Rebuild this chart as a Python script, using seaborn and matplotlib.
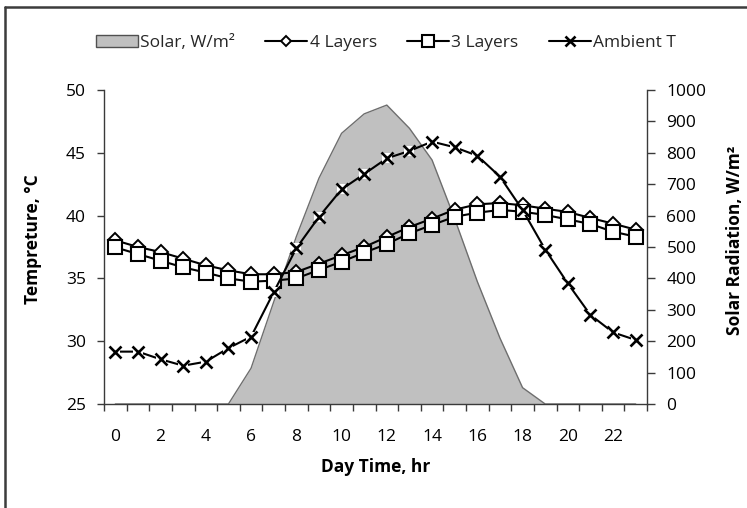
import matplotlib
matplotlib.use("Agg")
import matplotlib.pyplot as plt
from matplotlib.lines import Line2D
from matplotlib.patches import Patch
import numpy as np
import seaborn as sns

# ---- data ----
hours = list(range(24))
solar = [0, 0, 0, 0, 0, 0, 114, 325, 533, 719, 862, 924, 952, 878, 777, 590, 390, 210, 52, 0, 0, 0, 0, 0]
four_layers = [38.03, 37.50, 37.10, 36.57, 36.04, 35.64, 35.33, 35.33, 35.51, 36.17, 36.84, 37.50,
               38.30, 39.09, 39.76, 40.47, 40.90, 41.00, 40.82, 40.55, 40.29, 39.81, 39.36, 38.88]
three_layers = [37.47, 36.94, 36.41, 35.88, 35.46, 35.00, 34.74, 34.82, 35.00, 35.67, 36.33, 37.05,
                37.74, 38.59, 39.25, 39.91, 40.23, 40.45, 40.31, 40.05, 39.70, 39.33, 38.72, 38.32]
ambient = [29.17, 29.17, 28.56, 28.05, 28.37, 29.45, 30.36, 33.90, 37.40, 39.90, 42.09, 43.31,
           44.56, 45.15, 45.89, 45.44, 44.77, 43.10, 40.45, 37.30, 34.60, 32.09, 30.70, 30.10]
x_tick_labels = [str(h) for h in range(0, 24, 2)]
legend_labels = ["Solar, W/m²", "4 Layers", "3 Layers", "Ambient T"]

sns.set_theme(style="white")
plt.rcParams["font.family"] = ["Open Sans", "DejaVu Sans"]
plt.rcParams["axes.linewidth"] = 1.0

W, H = 747, 508
fig = plt.figure(figsize=(W / 100, H / 100), dpi=100)
ax = fig.add_axes([104 / W, 104 / H, 543 / W, 314 / H])
ax2 = ax.twinx()

# solar area on secondary axis
ax2.fill_between(hours, solar, 0, color="#c0c0c0", linewidth=0)
sns.lineplot(x=hours, y=solar, ax=ax2, color="#6e6e6e", linewidth=1.0)
ax2.set_ylim(0, 1000)
ax2.set_yticks(range(0, 1001, 100))

ax.set_zorder(ax2.get_zorder() + 1)
ax.patch.set_visible(False)

LW = 1.5
sns.lineplot(x=hours, y=four_layers, ax=ax, color="black", linewidth=LW,
             marker="D", markersize=7, markerfacecolor="white",
             markeredgecolor="black", markeredgewidth=1.4)
sns.lineplot(x=hours, y=three_layers, ax=ax, color="black", linewidth=LW,
             marker="s", markersize=9.5, markerfacecolor="white",
             markeredgecolor="black", markeredgewidth=1.5)
# ambient: line, white marker backing, then x markers
sns.lineplot(x=hours, y=ambient, ax=ax, color="black", linewidth=LW)
sns.lineplot(x=hours, y=ambient, ax=ax, linestyle="none", marker="s", markersize=6.5,
             markerfacecolor="white", markeredgewidth=0)
sns.lineplot(x=hours, y=ambient, ax=ax, linestyle="none", marker="x", markersize=8.5,
             markeredgewidth=1.9, markeredgecolor="black")

ax.set_ylim(25, 50)
ax.set_yticks(range(25, 51, 5))
ax.set_xlim(-0.5, 23.5)
ax.set_xticks(range(0, 24, 2))
ax.set_xticklabels(x_tick_labels)
ax.set_xticks(np.arange(-0.5, 24, 1), minor=True)

spine_c = "#3a3a3a"
for a in (ax, ax2):
    for s in a.spines.values():
        s.set_color(spine_c)
    a.spines["top"].set_visible(False)
ax.spines["right"].set_visible(False)
ax2.spines["left"].set_visible(False)
ax2.spines["bottom"].set_visible(False)

ax.tick_params(axis="x", which="major", length=0, pad=18, labelsize=12.5, colors="black")
ax.tick_params(axis="x", which="minor", bottom=True, length=5, width=1, color=spine_c, direction="out")
ax.tick_params(axis="y", which="major", left=True, length=5, width=1, color=spine_c,
               direction="out", pad=8, labelsize=12.5, labelcolor="black")
ax2.tick_params(axis="y", which="major", right=True, length=5.5, width=1, color=spine_c,
                direction="out", pad=8.5, labelsize=12.5, labelcolor="black")

lab_font = dict(fontsize=12.5, fontweight="bold", color="black")
ax.set_xlabel("Day Time, hr", **lab_font)
ax.set_ylabel("Tempreture, °C", **lab_font)
ax2.set_ylabel("Solar Radiation, W/m²", **lab_font)
ax.xaxis.set_label_coords(0.5, (404 - 458) / 314)
ax.yaxis.set_label_coords((42 - 104) / 543, 0.525)
ax2.yaxis.set_label_coords((726 - 104) / 543, 0.522)
ax.grid(False)
ax2.grid(False)

handles = [
    Patch(facecolor="#c0c0c0", edgecolor="#505050", linewidth=1.0),
    Line2D([], [], color="black", lw=LW, marker="D", markersize=5.5,
           markerfacecolor="white", markeredgecolor="black", markeredgewidth=1.4),
    Line2D([], [], color="black", lw=LW, marker="s", markersize=8,
           markerfacecolor="white", markeredgecolor="black", markeredgewidth=1.5),
    Line2D([], [], color="black", lw=LW, marker="x", markersize=6.5,
           markeredgewidth=1.9, markeredgecolor="black"),
]
fig.legend(handles, legend_labels, loc="center", bbox_to_anchor=(386 / W, 1 - 43 / H),
           ncol=4, frameon=False, fontsize=12.5, handlelength=2.4, handleheight=0.7,
           handletextpad=0.15, columnspacing=1.75)

# chart-area border (top and left edges visible in crop)
border_c = "#3c3c3c"
fig.add_artist(Line2D([4.5 / W, 4.5 / W], [0, 1 - 7 / H], transform=fig.transFigure,
                      color=border_c, lw=1.8))
fig.add_artist(Line2D([4.5 / W, 1], [1 - 7 / H, 1 - 7 / H], transform=fig.transFigure,
                      color=border_c, lw=1.8))

fig.savefig("out.png", dpi=100, facecolor="white")
